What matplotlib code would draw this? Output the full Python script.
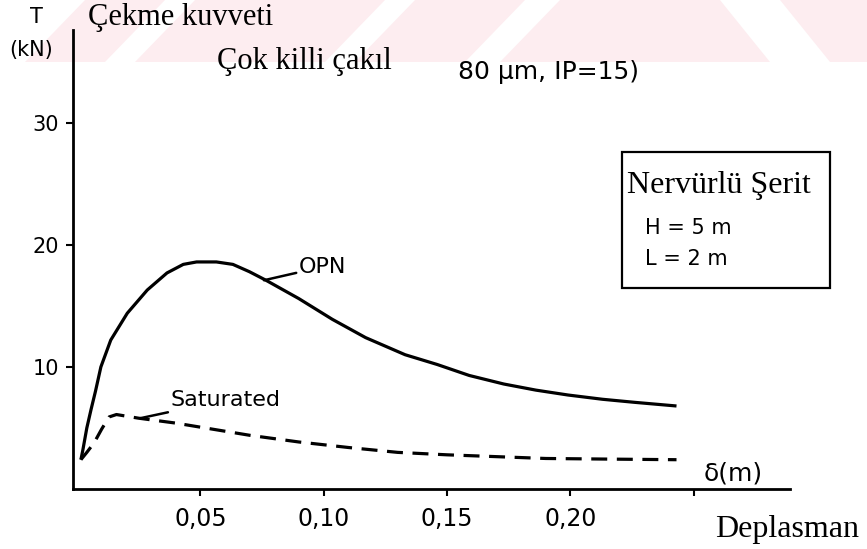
import matplotlib
matplotlib.use("Agg")
import matplotlib.pyplot as plt
from matplotlib.patches import Polygon, Rectangle

W, H = 867, 549

# OPN curve (solid): displacement (m) vs pull force (kN)
opn_d = [0.0016, 0.0024, 0.0040, 0.0057, 0.0075, 0.0097, 0.0137, 0.0204,
         0.0285, 0.0365, 0.0431, 0.0485, 0.0565, 0.0632, 0.0699, 0.0766,
         0.0899, 0.1035, 0.117, 0.133, 0.146, 0.159, 0.173, 0.186, 0.199,
         0.213, 0.226, 0.243]
opn_T = [2.4, 3.2, 5.0, 6.5, 8.0, 10.0, 12.2, 14.4,
         16.3, 17.7, 18.4, 18.6, 18.6, 18.4, 17.8, 17.1,
         15.6, 13.9, 12.4, 11.0, 10.2, 9.3, 8.6, 8.1, 7.7,
         7.35, 7.1, 6.8]

# Saturated curve (dashed)
sat_d = [0.0016, 0.004, 0.007, 0.010, 0.013, 0.016, 0.025, 0.040, 0.052,
         0.070, 0.090, 0.110, 0.130, 0.150, 0.170, 0.190, 0.215, 0.243]
sat_T = [2.4, 3.0, 3.8, 4.9, 5.9, 6.1, 5.8, 5.4, 5.0,
         4.4, 3.85, 3.4, 3.0, 2.8, 2.65, 2.5, 2.45, 2.4]

xticks = [0.05, 0.10, 0.15, 0.20, 0.25]
xticklabels = ["0,05", "0,10", "0,15", "0,20", ""]
yticks = [10, 20, 30]
yticklabels = ["10", "20", "30"]


def fx(x, y):
    # image pixel -> figure fraction
    return x / W, 1 - y / H


fig = plt.figure(figsize=(W / 100, H / 100), dpi=100)

# faint pink watermark band at the top of the scan
pink = "#fdedf0"
for poly in [
    [(25, 62), (105, 62), (165, 0), (85, 0)],
    [(135, 62), (325, 62), (385, 0), (195, 0)],
    [(355, 62), (465, 62), (525, 0), (415, 0)],
    [(500, 62), (770, 62), (720, 0), (560, 0)],
    [(830, 62), (867, 62), (867, 0), (780, 0)],
]:
    fig.patches.append(Polygon([fx(*p) for p in poly], closed=True,
                               transform=fig.transFigure, facecolor=pink,
                               edgecolor="none", zorder=-1))

ax = fig.add_axes([73 / W, 1 - 489 / H, (790 - 73) / W, (489 - 30) / H])
ax.patch.set_alpha(0)

ax.plot(opn_d, opn_T, color="black", lw=2.3, solid_capstyle="butt",
        solid_joinstyle="round")
ax.plot(sat_d, sat_T, color="black", lw=2.3, linestyle=(0, (5, 3)))

ax.set_xlim(-0.0016, 0.289)
ax.set_ylim(0, 37.6)
for s in ["top", "right"]:
    ax.spines[s].set_visible(False)
for s in ["left", "bottom"]:
    ax.spines[s].set_linewidth(2.0)

sans = "DejaVu Sans"
ax.set_xticks(xticks)
ax.set_xticklabels(xticklabels, fontsize=17, family=sans)
ax.set_yticks(yticks)
ax.set_yticklabels(yticklabels, fontsize=15, family=sans)
ax.tick_params(axis="both", length=5, width=1.5, direction="out")
ax.tick_params(axis="x", pad=8)
ax.tick_params(axis="y", pad=5)

# curve labels with leaders
ax.annotate("OPN", xy=(0.0758, 17.1), xytext=(0.090, 18.2), fontsize=16,
            family=sans, va="center", ha="left",
            arrowprops=dict(arrowstyle="-", lw=1.8, color="black",
                            shrinkA=0, shrinkB=0))
ax.annotate("Saturated", xy=(0.0257, 5.8), xytext=(0.038, 7.3), fontsize=16,
            family=sans, va="center", ha="left",
            arrowprops=dict(arrowstyle="-", lw=1.8, color="black",
                            shrinkA=0, shrinkB=0))
ax.text(0.254, 1.3, "δ(m)", fontsize=18, family=sans, va="center", ha="left")

serif = "Liberation Serif"
fig.text(*fx(88, 18), "Çekme kuvveti", fontsize=22, family=serif, va="center")
fig.text(*fx(217, 62), "Çok killi çakıl", fontsize=22, family=serif, va="center")
fig.text(*fx(715, 530), "Deplasman", fontsize=23, family=serif, va="center")
fig.text(*fx(36, 17), "T", fontsize=15, family=sans, va="center", ha="center")
fig.text(*fx(31, 50), "(kN)", fontsize=15, family=sans, va="center", ha="center")
fig.text(*fx(458, 72), "80 μm, IP=15)", fontsize=18, family=sans, va="center")

# parameter box
x0, y0 = fx(622, 288)
x1, y1 = fx(830, 152)
fig.patches.append(Rectangle((x0, y0), x1 - x0, y1 - y0, transform=fig.transFigure,
                             facecolor="none", edgecolor="black", lw=1.6))
fig.text(*fx(627, 185), "Nervürlü Şerit", fontsize=23, family=serif, va="center")
fig.text(*fx(645, 228), "H = 5 m", fontsize=15, family=sans, va="center")
fig.text(*fx(645, 259), "L = 2 m", fontsize=15, family=sans, va="center")

fig.savefig("out.png", dpi=100)
